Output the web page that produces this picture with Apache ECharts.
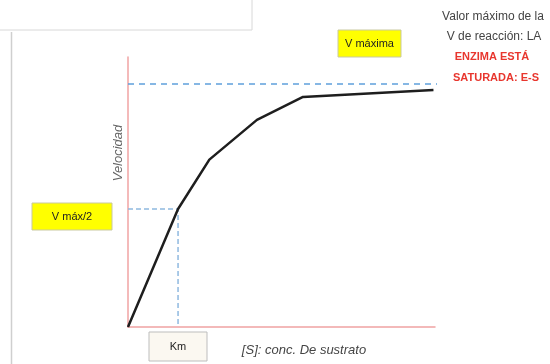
<!DOCTYPE html>
<html>
<head>
<meta charset="utf-8">
<script src="https://cdn.jsdelivr.net/npm/echarts@6/dist/echarts.min.js"></script>
<style>
  html, body { margin: 0; padding: 0; background: #fff; }
  #chart { width: 550px; height: 364px; }
</style>
</head>
<body>
<div id="chart"></div>
<script>
// [S] concentration vs reaction speed (Michaelis-Menten sketch)
const sConc = [0, 16.3, 26.5, 42, 57, 99.5];
const velocidad = [0, 43.7, 62, 76.7, 85.2, 87.8];
const vMax = 90;
const vHalf = 43.7;
const km = 16.3;

const FONT = '"Liberation Sans Narrow", "Liberation Sans", sans-serif';

const chart = echarts.init(document.getElementById('chart'));

chart.setOption({
  animation: false,
  grid: { left: 128, right: 115, top: 57, bottom: 37 },
  xAxis: {
    type: 'value',
    min: 0,
    max: 100,
    axisLine: { show: true, lineStyle: { color: '#f0a3a3', width: 1.5 } },
    axisTick: { show: false },
    axisLabel: { show: false },
    splitLine: { show: false },
  },
  yAxis: {
    type: 'value',
    min: 0,
    max: 100,
    axisLine: { show: true, lineStyle: { color: '#f0a3a3', width: 1.5 } },
    axisTick: { show: false },
    axisLabel: { show: false },
    splitLine: { show: false },
  },
  series: [
    {
      name: 'vmax',
      type: 'line',
      clip: false,
      symbol: 'none',
      data: [[0, vMax], [102.5, vMax]],
      lineStyle: { color: '#5fa0dc', width: 1.5, type: [6, 5] },
    },
    {
      name: 'km',
      type: 'line',
      symbol: 'none',
      data: [[0, vHalf], [km, vHalf], [km, 0]],
      lineStyle: { color: '#8fb9e0', width: 1.5, type: [5, 3] },
    },
    {
      name: 'velocidad',
      type: 'line',
      symbol: 'none',
      data: sConc.map((s, i) => [s, velocidad[i]]),
      lineStyle: { color: '#1e1e1e', width: 2.5 },
    },
  ],
  graphic: [
    // frames from the slide
    { type: 'polyline', shape: { points: [[0, 30], [252, 30], [252, 0]] }, style: { stroke: '#d8d8d8', lineWidth: 1, fill: null } },
    { type: 'line', shape: { x1: 11.5, y1: 32, x2: 11.5, y2: 364 }, style: { stroke: '#cfcfcf', lineWidth: 1.5 } },
    // V maxima box
    { type: 'rect', shape: { x: 338, y: 30, width: 63, height: 27 }, style: { fill: '#ffff00', stroke: '#c9c9a0', lineWidth: 1 } },
    { type: 'text', x: 369.5, y: 43.5, style: { text: 'V máxima', font: '11px ' + FONT, fill: '#222', align: 'center', verticalAlign: 'middle' } },
    // V max/2 box
    { type: 'rect', shape: { x: 32, y: 203, width: 80, height: 27 }, style: { fill: '#ffff00', stroke: '#c9c9a0', lineWidth: 1 } },
    { type: 'text', x: 72, y: 216.5, style: { text: 'V máx/2', font: '11px ' + FONT, fill: '#222', align: 'center', verticalAlign: 'middle' } },
    // Km box
    { type: 'rect', shape: { x: 149, y: 332, width: 58, height: 29 }, style: { fill: '#fbf8f1', stroke: '#bdbdbd', lineWidth: 1 } },
    { type: 'text', x: 178, y: 346.5, style: { text: 'Km', font: '11px ' + FONT, fill: '#222', align: 'center', verticalAlign: 'middle' } },
    // axis titles
    { type: 'text', x: 304, y: 350, style: { text: '[S]: conc. De sustrato', font: 'italic 13px ' + FONT, fill: '#444', align: 'center', verticalAlign: 'middle' } },
    { type: 'text', x: 118, y: 153, rotation: Math.PI / 2, style: { text: 'Velocidad', font: 'italic 13px ' + FONT, fill: '#666', align: 'center', verticalAlign: 'middle' } },
    // right note
    { type: 'text', x: 493, y: 17, style: { text: 'Valor máximo de la', font: '12px ' + FONT, fill: '#444', align: 'center', verticalAlign: 'middle' } },
    { type: 'text', x: 494, y: 37, style: { text: 'V de reacción: LA', font: '12px ' + FONT, fill: '#444', align: 'center', verticalAlign: 'middle' } },
    { type: 'text', x: 492, y: 57, style: { text: 'ENZIMA ESTÁ', font: 'bold 11px ' + FONT, fill: '#e8362e', align: 'center', verticalAlign: 'middle' } },
    { type: 'text', x: 496, y: 78, style: { text: 'SATURADA: E-S', font: 'bold 11px ' + FONT, fill: '#e8362e', align: 'center', verticalAlign: 'middle' } },
  ],
});
</script>
</body>
</html>
